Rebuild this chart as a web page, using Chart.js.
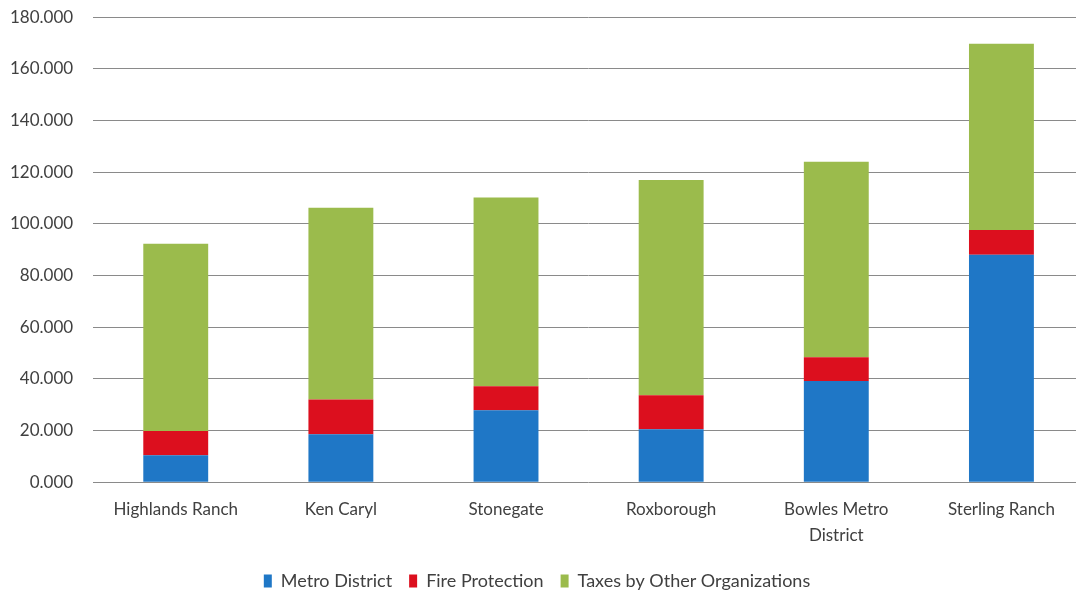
<!DOCTYPE html>
<html lang="en">
<head>
    <meta charset="UTF-8">
    <title>Tax Comparison</title>
    <script src="https://cdn.jsdelivr.net/npm/chart.js"></script>
    <style>
        html, body { margin: 0; padding: 0; background: #fff; overflow: hidden; }
        /* the plot in the reference runs past the right edge, so the box is a bit wider than the window */
        .wrap { width: 1094px; height: 613px; position: relative; margin-top: -13px; margin-left: -10px; }
    </style>
</head>
<body>
    <div class="wrap"><canvas id="taxChart"></canvas></div>

    <script>
        // data
        const categories = ['Highlands Ranch', 'Ken Caryl', 'Stonegate', 'Roxborough', ['Bowles Metro', 'District'], 'Sterling Ranch'];
        const metroDistrict = [10.5, 18.6, 27.9, 20.5, 39.2, 88.1];
        const fireProtection = [9.4, 13.4, 9.3, 13.2, 9.2, 9.5];
        const otherTaxes = [72.4, 74.3, 73.0, 83.3, 75.7, 72.1];
        const yMax = 180;
        const yStep = 20;

        const textColor = '#404040';
        const fontFamily = 'Lato, "Open Sans", sans-serif';

        new Chart(document.getElementById('taxChart'), {
            type: 'bar',
            data: {
                labels: categories,
                datasets: [
                    { label: 'Metro District', data: metroDistrict, backgroundColor: '#1F77C6' },
                    { label: 'Fire Protection', data: fireProtection, backgroundColor: '#DC0F1E' },
                    { label: 'Taxes by Other Organizations', data: otherTaxes, backgroundColor: '#9BBB4C' }
                ]
            },
            options: {
                responsive: true,
                maintainAspectRatio: false,
                animation: false,
                layout: { padding: { top: 4, left: 0, right: 0, bottom: 0 } },
                datasets: {
                    bar: { categoryPercentage: 1, barPercentage: 0.393 }
                },
                scales: {
                    x: {
                        stacked: true,
                        grid: { display: false },
                        border: { display: false },
                        ticks: {
                            color: textColor,
                            font: { family: fontFamily, size: 17, lineHeight: 1.55 },
                            padding: 6,
                            maxRotation: 0
                        }
                    },
                    y: {
                        stacked: true,
                        min: 0,
                        max: yMax,
                        grid: { color: '#8a8a8a', lineWidth: 1, drawTicks: false },
                        border: { display: false },
                        ticks: {
                            stepSize: yStep,
                            color: textColor,
                            font: { family: fontFamily, size: 17 },
                            padding: 20,
                            callback: v => v.toFixed(3)
                        }
                    }
                },
                plugins: {
                    legend: {
                        position: 'bottom',
                        labels: {
                            color: textColor,
                            font: { family: fontFamily, size: 18 },
                            boxWidth: 8,
                            boxHeight: 13,
                            padding: 17
                        }
                    },
                    tooltip: { enabled: false }
                }
            }
        });
    </script>
</body>
</html>
